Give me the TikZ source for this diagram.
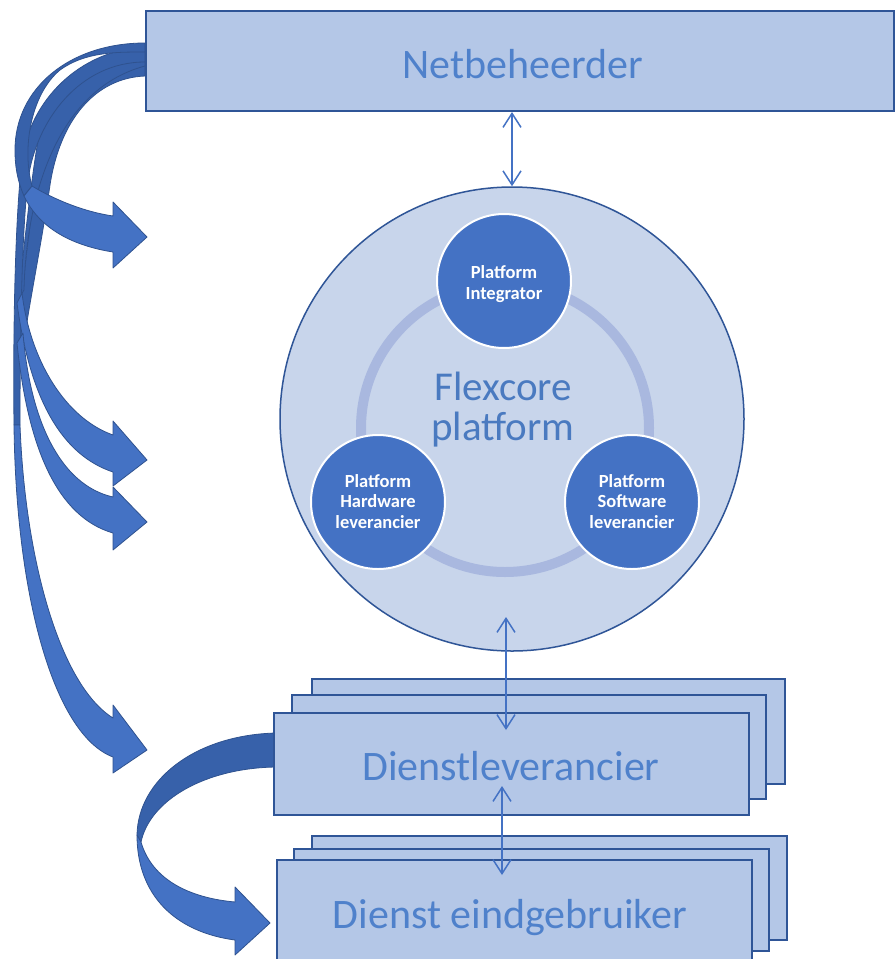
\documentclass[tikz,border=0pt]{standalone}
\usepackage{fontspec}
\setmainfont{Carlito}
\usetikzlibrary{arrows.meta}
\definecolor{boxfill}{HTML}{B4C7E7}
\definecolor{boxline}{HTML}{2F5597}
\definecolor{txtblue}{HTML}{4F81CB}
\definecolor{flextxt}{HTML}{4A7AC0}
\definecolor{circfill}{HTML}{C8D5EB}
\definecolor{accent}{HTML}{4472C4}
\definecolor{ringcol}{HTML}{A9B8DF}
\definecolor{darkarrow}{HTML}{3761AA}
\definecolor{arrowline}{HTML}{2F528F}
\begin{document}
\begin{tikzpicture}[x=1pt,y=-1pt,
  stackbox/.style={draw=boxline,fill=boxfill,line width=2pt,inner sep=0pt,anchor=north west},
  biglabel/.style={text=txtblue,font=\fontsize{42}{37}\selectfont,inner sep=0pt,anchor=base},
  rolecirc/.style={circle,fill=accent,draw=white,line width=2pt,minimum size=134pt,inner sep=0pt},
  rolelabel/.style={text=white,font=\bfseries\fontsize{18.5}{20.5}\selectfont,align=center,inner sep=0pt},
  arrowback/.style={fill=darkarrow,draw=arrowline,line width=0.8pt,line join=round},
  arrowfront/.style={fill=accent,draw=arrowline,line width=0.8pt,line join=round},
  bidir/.style={draw=accent,line width=1.5pt,
    arrows={Straight Barb[length=14pt,width=18pt]-Straight Barb[length=14pt,width=18pt]}}
]
\useasboundingbox (0,0) rectangle (896,959);
\clip (0,0) rectangle (896,959);
\fill[white] (0,0) rectangle (896,959);

% ---- curved block arrows from Netbeheerder (back faces) ----
\path[arrowback] (145,52) .. controls (95,55) and (52,85) .. (42,140) .. controls (35,185) and (22,280) .. (18,340)
  -- (25,335) .. controls (30,300) and (42,240) .. (50,185) .. controls (60,120) and (95,78) .. (145,76) -- cycle;
\path[arrowback] (145,50) .. controls (95,52) and (50,80) .. (40,130) .. controls (32,170) and (25,240) .. (18,300)
  -- (24,290) .. controls (26,200) and (55,90) .. (145,66) -- cycle;
\path[arrowback] (145,47) .. controls (80,50) and (30,100) .. (22,160) .. controls (15,220) and (13,330) .. (14,425)
  -- (20,425) .. controls (20,330) and (22,230) .. (28,180) .. controls (36,120) and (80,62) .. (145,62) -- cycle;
\path[arrowback] (145,43) .. controls (70,43) and (15,88) .. (15,150) .. controls (15,168) and (18,182) .. (24,196)
  -- (32,186) .. controls (22,150) and (30,95) .. (60,70) .. controls (85,52) and (115,52) .. (145,52) -- cycle;

% ---- front faces with heads ----
\path[arrowfront] (32,186) .. controls (55,200) and (85,212) .. (113,216) -- (113,202) -- (147,237) -- (113,268)
  -- (113,252) .. controls (75,246) and (40,230) .. (24,196) -- cycle;
\path[arrowfront] (22,293) .. controls (30,360) and (65,418) .. (113,435) -- (113,421) -- (147,460) -- (113,486)
  -- (113,472) .. controls (62,455) and (30,400) .. (17,303) -- cycle;
\path[arrowfront] (23,333) .. controls (30,420) and (60,485) .. (113,497) -- (113,487) -- (147,522) -- (113,550)
  -- (113,533) .. controls (58,517) and (28,450) .. (17,343) -- cycle;
\path[arrowfront] (20,425) .. controls (25,560) and (60,685) .. (113,718) -- (113,705) -- (147,750) -- (113,773)
  -- (113,757) .. controls (55,735) and (16,600) .. (14,425) -- cycle;

% ---- curved block arrow from Dienstleverancier to Dienst eindgebruiker ----
\path[arrowback] (276,733) .. controls (195,735) and (138,780) .. (137,835)
  -- (141,842) .. controls (150,800) and (205,768) .. (276,767) -- cycle;
\path[arrowfront] (141,842) .. controls (152,880) and (190,898) .. (235,902) -- (235,887) -- (270,923) -- (235,955)
  -- (235,940) .. controls (175,932) and (137,895) .. (137,835) -- cycle;

% ---- Netbeheerder ----
\node[stackbox,minimum width=748pt,minimum height=100pt] (net) at (145,10) {};
\node[biglabel] (netlabel) at (523,78) {Netbeheerder};

% ---- Flexcore platform ----
\node[circle,fill=circfill,draw=boxline,line width=1.5pt,minimum size=464pt,inner sep=0pt] (platform) at (512,419) {};
\draw[ringcol,line width=10pt] (505,428) circle[radius=144pt];
\node[text=flextxt,font=\fontsize{41}{40}\selectfont,align=center,inner sep=0pt] (flexlabel) at (503,410) {Flexcore\\platform};
\node[rolecirc] (integ) at (504,281) {};
\node[rolecirc] (hw) at (378,502) {};
\node[rolecirc] (sw) at (632,502) {};
\node[rolelabel] (integlabel) at (504,284) {Platform\\Integrator};
\node[rolelabel] (hwlabel) at (378,501.5) {Platform\\Hardware\\leverancier};
\node[rolelabel] (swlabel) at (632,501.5) {Platform\\Software\\leverancier};

% ---- Dienstleverancier stack ----
\node[stackbox,minimum width=473pt,minimum height=105pt] (dl3) at (311,678) {};
\node[stackbox,minimum width=474pt,minimum height=104pt] (dl2) at (291,694) {};
\node[stackbox,minimum width=475pt,minimum height=102pt] (dl1) at (273,712) {};
\node[biglabel] (dllabel) at (511,780) {Dienstleverancier};

% ---- Dienst eindgebruiker stack ----
\node[stackbox,minimum width=475pt,minimum height=104pt] (de3) at (311,835) {};
\node[stackbox,minimum width=475pt,minimum height=102pt] (de2) at (293,848) {};
\node[stackbox,minimum width=475pt,minimum height=110pt] (de1) at (276,859) {};
\node[biglabel] (delabel) at (510,928) {Dienst eindgebruiker};

% ---- bidirectional connectors ----
\coordinate (c1) at (506,617);
\coordinate (c2) at (506,730);
\coordinate (c3) at (502,786);
\coordinate (c4) at (502,875);
\draw[bidir] (net.south -| platform.north) -- (platform.north);
\draw[bidir] (c1) -- (c2);
\draw[bidir] (c3) -- (c4);
\end{tikzpicture}
\end{document}
